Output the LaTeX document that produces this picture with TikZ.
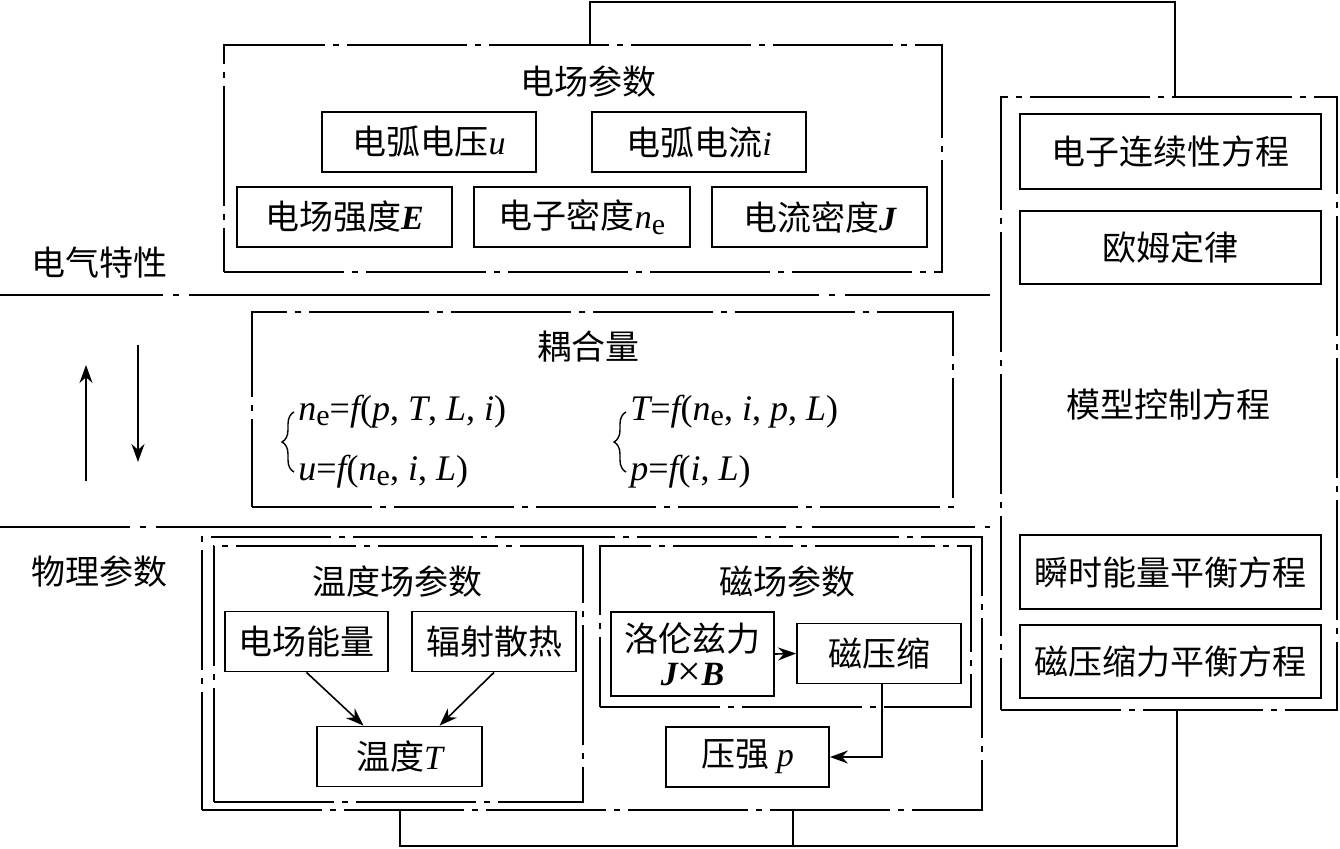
\documentclass[tikz,border=0pt]{standalone}
\usepackage{fontspec}
\setmainfont{Liberation Serif}
\newfontfamily\cjk{Noto Sans CJK SC}
\newfontfamily\lat{Liberation Serif}
\usetikzlibrary{arrows.meta,decorations.pathreplacing}

\newcommand{\itv}[1]{{\lat\itshape #1}}
\newcommand{\bfv}[1]{{\lat\bfseries\itshape #1}}
\newcommand{\esub}{\raisebox{-0.3ex}{\lat\upshape\fontsize{15}{15}\selectfont e}}

\tikzset{
  blk/.style={draw, line width=0.9pt, inner sep=0pt, minimum height=30pt},
  grp/.style={draw, line width=0.9pt, inner sep=0pt,
    dash pattern=on 60pt off 4pt on 3pt off 4pt},
  sep/.style={line width=0.9pt,
    dash pattern=on 81.5pt off 5pt on 3pt off 5pt on 315pt off 5pt on 3pt off 5pt},
  eq/.style={anchor=west, inner sep=0pt, font=\lat\fontsize{18}{20}\selectfont},
  brc/.style={decorate, decoration={brace, amplitude=6pt}, line width=0.7pt},
  arr/.style={-{Stealth[length=9pt,width=6.5pt]}, line width=0.8pt},
  ln/.style={line width=0.9pt}
}

\begin{document}
\begin{tikzpicture}[x=0.5pt, y=-0.5pt, font=\cjk\fontsize{17}{20}\selectfont]
  \useasboundingbox (0,0) rectangle (1340,848);

  % electric field
  \node[grp, minimum width=359pt, minimum height=113.5pt] (fieldbox) at (583,158.5) {};
  \node (fieldt) at (588,82) {电场参数};
  \node[blk, minimum width=107pt] (u) at (429,142) {电弧电压\itv{u}};
  \node[blk, minimum width=107pt] (i) at (699,142) {电弧电流\itv{i}};
  \node[blk, minimum width=107.5pt] (E) at (344.5,217) {电场强度\bfv{E}};
  \node[blk, minimum width=108pt] (ne) at (582,217) {电子密度\itv{n}\esub};
  \node[blk, minimum width=107.5pt] (J) at (819.5,217) {电流密度\bfv{J}};
  \node (elecl) at (100,263) {电气特性};

  \draw[sep] (0,295) -- (990,295);

  % coupling
  \node[grp, minimum width=350.5pt, minimum height=97.5pt] (coupbox) at (602.5,409.5) {};
  \node (coupt) at (588,347) {耦合量};
  \node[eq] (eq1) at (298,412) {\itv{n}\esub=\itv{f}(\itv{p}, \itv{T}, \itv{L}, \itv{i})};
  \node[eq] (eq2) at (298,472) {\itv{u}=\itv{f}(\itv{n}\esub, \itv{i}, \itv{L})};
  \draw[brc] ([xshift=-2pt]eq2.west) -- ([xshift=-2pt]eq1.west);
  \node[eq] (eq3) at (630,412) {\itv{T}=\itv{f}(\itv{n}\esub, \itv{i}, \itv{p}, \itv{L})};
  \node[eq] (eq4) at (630,472) {\itv{p}=\itv{f}(\itv{i}, \itv{L})};
  \draw[brc] ([xshift=-2pt]eq4.west) -- ([xshift=-2pt]eq3.west);

  \coordinate (upS) at (86,481);
  \coordinate (upE) at (86,365);
  \coordinate (dnS) at (138,345);
  \coordinate (dnE) at (138,462);
  \draw[arr] (upS) -- (upE);
  \draw[arr] (dnS) -- (dnE);

  \draw[sep, dash phase=16.5pt] (0,527) -- (990,527);

  % physical parameters
  \node (physl) at (100,572) {物理参数};
  \node[grp, minimum width=390pt, minimum height=136.5pt] (physbox) at (592,673.5) {};
  \node[grp, minimum width=184.5pt, minimum height=128pt] (tempbox) at (398.5,674) {};
  \node (tempt) at (397,582) {温度场参数};
  \node[blk, minimum width=81.5pt] (efe) at (306.5,641.5) {电场能量};
  \node[blk, minimum width=82pt] (rad) at (494,641.5) {辐射散热};
  \node[blk, minimum width=82.5pt] (temp) at (399.5,756.5) {温度\itv{T}};
  \draw[arr] (efe.south) -- ([xshift=-18pt]temp.north);
  \draw[arr] (rad.south) -- ([xshift=20pt]temp.north);

  \node[grp, minimum width=185.5pt, minimum height=80.5pt] (magbox) at (785.5,626.5) {};
  \node (magt) at (787,582) {磁场参数};
  \node[blk, minimum width=81.5pt, minimum height=42pt, align=center] (lor) at (692.5,654)
    {洛伦兹力\\[-3pt]\bfv{J}{\lat\fontsize{21}{20}\selectfont ×}\bfv{B}};
  \node[blk, minimum width=82pt] (mc) at (879,653.5) {磁压缩};
  \node[blk, minimum width=81.5pt] (pres) at (747.5,757) {压强 \itv{p}};
  \draw[arr] (lor.east) -- (mc.west);
  \draw[arr] ([xshift=1.5pt]mc.south) |- (pres.east);

  % model equations
  \node[grp, minimum width=168pt, minimum height=306.5pt] (modelbox) at (1169,403.5) {};
  \node[blk, minimum width=150.5pt, minimum height=37.5pt] (cont) at (1170.5,151.5) {电子连续性方程};
  \node[blk, minimum width=150.5pt, minimum height=36.5pt] (ohm) at (1170.5,247.5) {欧姆定律};
  \node (modelt) at (1168,405) {模型控制方程};
  \node[blk, minimum width=150.5pt, minimum height=37pt] (energy) at (1170.5,572) {瞬时能量平衡方程};
  \node[blk, minimum width=150.5pt, minimum height=36.5pt] (force) at (1170.5,661.5) {磁压缩力平衡方程};

  % links
  \coordinate (ftop) at ([xshift=3.5pt]fieldbox.north);
  \coordinate (mtop) at ([xshift=3pt]modelbox.north);
  \coordinate (toprail) at (1175,2);
  \draw[ln] (ftop) |- (toprail) -- (mtop);
  \coordinate (pb1) at ([xshift=-96pt]physbox.south);
  \coordinate (pb2) at ([xshift=100.5pt]physbox.south);
  \coordinate (mbot) at ([xshift=4pt]modelbox.south);
  \coordinate (botrail) at (793,846);
  \draw[ln] (pb1) |- (botrail) -| (mbot);
  \draw[ln] (pb2) -- (botrail);
\end{tikzpicture}
\end{document}
